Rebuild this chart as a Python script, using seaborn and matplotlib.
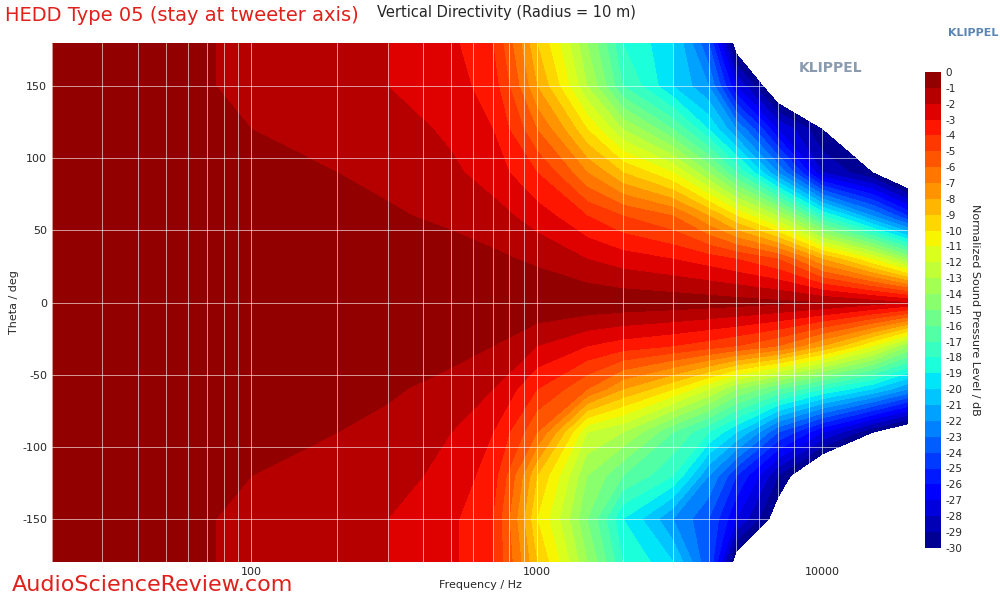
import numpy as np
import matplotlib
matplotlib.use("Agg")
import matplotlib.pyplot as plt
import seaborn as sns
from matplotlib.ticker import FixedLocator, FixedFormatter, LogLocator, NullFormatter

sns.set_theme(style="white")
plt.rcParams['font.family'] = ['DejaVu Sans']
plt.rcParams['axes.unicode_minus'] = False

freqs = [20, 50, 100, 200, 300, 500, 700, 1000, 1500, 2000, 3000, 4000, 5000, 7000, 10000, 15000, 20000]
angles = [180, 150, 120, 90, 60, 30, 0, -30, -60, -90, -120, -150, -180]
spl_180 = [-0.6, -0.8, -1.2, -1.6, -2, -2.8, -4, -9, -14, -18, -20, -24, -31, -33, -34, -36, -36]
spl_150 = [-0.6, -0.8, -1.2, -1.6, -2, -2.6, -3.5, -8, -13, -17, -20, -22, -27, -32, -33, -35, -35]
spl_120 = [-0.5, -0.7, -1, -1.3, -1.6, -2.2, -3, -6, -10, -13, -16, -19, -22, -27, -30, -34, -35]
spl_90 = [-0.4, -0.6, -0.8, -1, -1.2, -1.8, -2.5, -4, -7, -9, -11, -14, -17, -22, -28, -30, -33]
spl_60 = [-0.3, -0.4, -0.5, -0.7, -0.9, -1.2, -1.6, -2.5, -4, -5, -6, -8, -10, -13, -18, -22, -25]
spl_30 = [-0.1, -0.2, -0.3, -0.4, -0.5, -0.6, -0.8, -1.2, -2, -2.5, -3, -3.5, -4, -5, -8, -11, -14]
spl_0 = [-0.05, -0.05, -0.05, -0.05, -0.05, -0.05, -0.1, -0.1, -0.2, -0.3, -0.4, -0.5, -0.6, -0.8, -1, -1.5, -2]
spl_m30 = [-0.1, -0.2, -0.3, -0.4, -0.5, -0.7, -1, -2, -3, -3.5, -4, -4.5, -5, -6, -8, -11, -14]
spl_m60 = [-0.3, -0.4, -0.5, -0.7, -0.9, -1.3, -2, -4, -6, -8, -10, -12, -14, -16, -18, -20, -22]
spl_m90 = [-0.4, -0.6, -0.8, -1, -1.2, -2, -3, -6, -12, -13, -16, -18, -20, -24, -27, -30, -32]
spl_m120 = [-0.5, -0.7, -1, -1.3, -1.6, -2.4, -3.5, -9, -14, -16, -18, -22, -25, -29, -33, -34, -34]
spl_m150 = [-0.6, -0.8, -1.2, -1.6, -2, -2.8, -4, -10, -15, -19, -22, -24, -27, -31, -33, -35, -35]
spl_m180 = spl_180

Z = np.clip(np.array([spl_180, spl_150, spl_120, spl_90, spl_60, spl_30, spl_0,
                      spl_m30, spl_m60, spl_m90, spl_m120, spl_m150, spl_m180]), -40, -0.01)
F, A = np.meshgrid(freqs, angles)

fig = plt.figure(figsize=(10, 6), dpi=100)
ax = fig.add_axes([0.052, 0.0633, 0.856, 0.865])
cax = fig.add_axes([0.925, 0.087, 0.016, 0.793])
ax.set_facecolor("white")

levels = np.arange(-30, 1, 1)
cs = ax.contourf(F, A, Z, levels=levels, cmap="jet")
ax.set_xscale("log")
ax.set_xlim(20, 20000)
ax.set_ylim(-180, 180)
ax.set_yticks([-150, -100, -50, 0, 50, 100, 150])
ax.xaxis.set_major_locator(FixedLocator([100, 1000, 10000]))
ax.xaxis.set_major_formatter(FixedFormatter(["100", "1000", "10000"]))
ax.xaxis.set_minor_locator(LogLocator(base=10, subs=np.arange(2, 10)))
ax.xaxis.set_minor_formatter(NullFormatter())
ax.grid(True, which="both", color="white", lw=0.6, alpha=0.7)
ax.set_axisbelow(False)
ax.tick_params(labelsize=8, length=0)
ax.set_xlabel("Frequency / Hz", fontsize=8, labelpad=2)
ax.set_ylabel("Theta / deg", fontsize=8, labelpad=2)
for s in ax.spines.values():
    s.set_visible(False)

cb = fig.colorbar(cs, cax=cax, ticks=np.arange(-30, 1, 1))
cb.ax.tick_params(labelsize=7.5, length=0)
cb.outline.set_visible(False)
cb.set_label("Normalized Sound Pressure Level / dB", fontsize=8, rotation=270, labelpad=12)

fig.text(0.005, 0.965, "HEDD Type 05 (stay at tweeter axis)", color="#e0201b", fontsize=14)
fig.text(0.377, 0.972, "Vertical Directivity (Radius = 10 m)", fontsize=10.5)
fig.text(0.948, 0.94, "KLIPPEL", color="#5b84b1", fontsize=8, fontweight="bold")
ax.text(0.91, 0.945, "KLIPPEL", transform=ax.transAxes, color="#8a9bb0", fontsize=10,
        fontweight="bold", ha="center")
fig.text(0.012, 0.015, "AudioScienceReview.com", color="#e0201b", fontsize=16)

fig.savefig("out.png", dpi=100)
